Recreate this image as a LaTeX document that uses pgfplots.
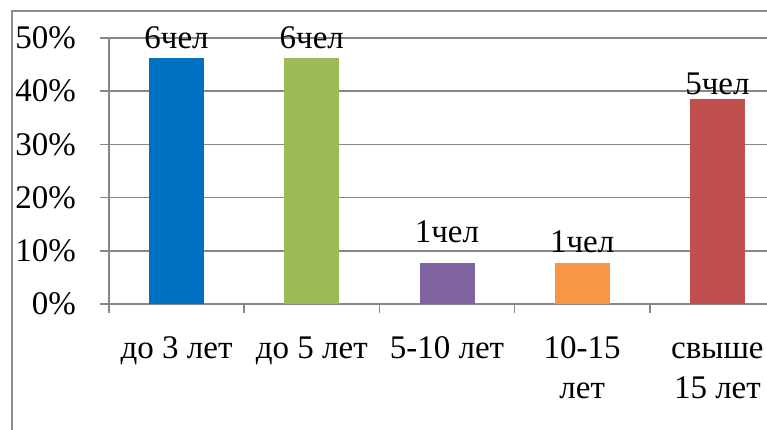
\documentclass[border=0pt]{standalone}
\usepackage{fontspec}
\setmainfont{Liberation Serif}
\newfontfamily\tms{Liberation Serif}
\usepackage{pgfplots}
\usepackage{pgfplotstable}
\pgfplotsset{compat=1.18}
\definecolor{gridgray}{HTML}{878787}
\definecolor{framegray}{HTML}{8C8C8C}
\definecolor{c1}{HTML}{0070C0}
\definecolor{c2}{HTML}{9BBB59}
\definecolor{c3}{HTML}{8064A2}
\definecolor{c4}{HTML}{F79646}
\definecolor{c5}{HTML}{C0504D}
\newcommand{\bigf}{\tms\fontsize{33pt}{40pt}\selectfont}
\pgfplotstableread{
x y label
0 48.1 6чел
1 48.1 6чел
2 11.5 1чел
3 9.6 1чел
4 39.3 5чел
}\labels
\begin{document}
\bigf
\begin{tikzpicture}
\useasboundingbox (0,0) rectangle (767pt,429pt);
\clip (0,0) rectangle (767pt,429pt);
\draw[color=framegray, line width=1.5pt] (12pt,-20pt) -- (12pt,418pt) -- (800pt,418pt);
\begin{axis}[
  at={(109pt,125pt)}, anchor=south west,
  scale only axis, width=676pt, height=266pt,
  xmin=-0.5, xmax=4.5, ymin=0, ymax=50,
  axis lines*=left,
  axis line style={gridgray, line width=1.5pt},
  every tick/.style={gridgray, line width=1.5pt},
  tick align=outside,
  major tick length=9pt,
  ytick={0,10,20,30,40,50},
  yticklabels={0\%,10\%,20\%,30\%,40\%,50\%},
  ymajorgrids,
  grid style={gridgray, line width=1.5pt},
  xtick={-0.5,0.5,1.5,2.5,3.5,4.5},
  xticklabels={},
  extra x ticks={0,1,2,3,4},
  extra x tick labels={\strut до 3 лет,\strut до 5 лет,\strut 5-10 лет,\strut 10-15\\лет,\strut свыше\\15 лет},
  extra x tick style={major tick length=0pt, grid=none},
  xticklabel style={font=\bigf, align=center, anchor=north, inner sep=0pt, yshift=-26pt},
  yticklabel style={font=\bigf, anchor=east, inner sep=0pt, xshift=-24pt},
  ybar, bar width=55pt,
  clip=false,
]
\addplot[ybar, bar shift=0pt, fill=c1, draw=none] coordinates {(0,46.15)};
\addplot[ybar, bar shift=0pt, fill=c2, draw=none] coordinates {(1,46.15)};
\addplot[ybar, bar shift=0pt, fill=c3, draw=none] coordinates {(2,7.69)};
\addplot[ybar, bar shift=0pt, fill=c4, draw=none] coordinates {(3,7.69)};
\addplot[ybar, bar shift=0pt, fill=c5, draw=none] coordinates {(4,38.46)};
\addplot[sharp plot, draw=none, mark=none, nodes near coords, point meta=explicit symbolic,
  every node near coord/.style={font=\bigf, anchor=base, inner sep=0pt, text=black}]
  table[x=x, y=y, meta=label] {\labels};
\end{axis}
\end{tikzpicture}
\end{document}
